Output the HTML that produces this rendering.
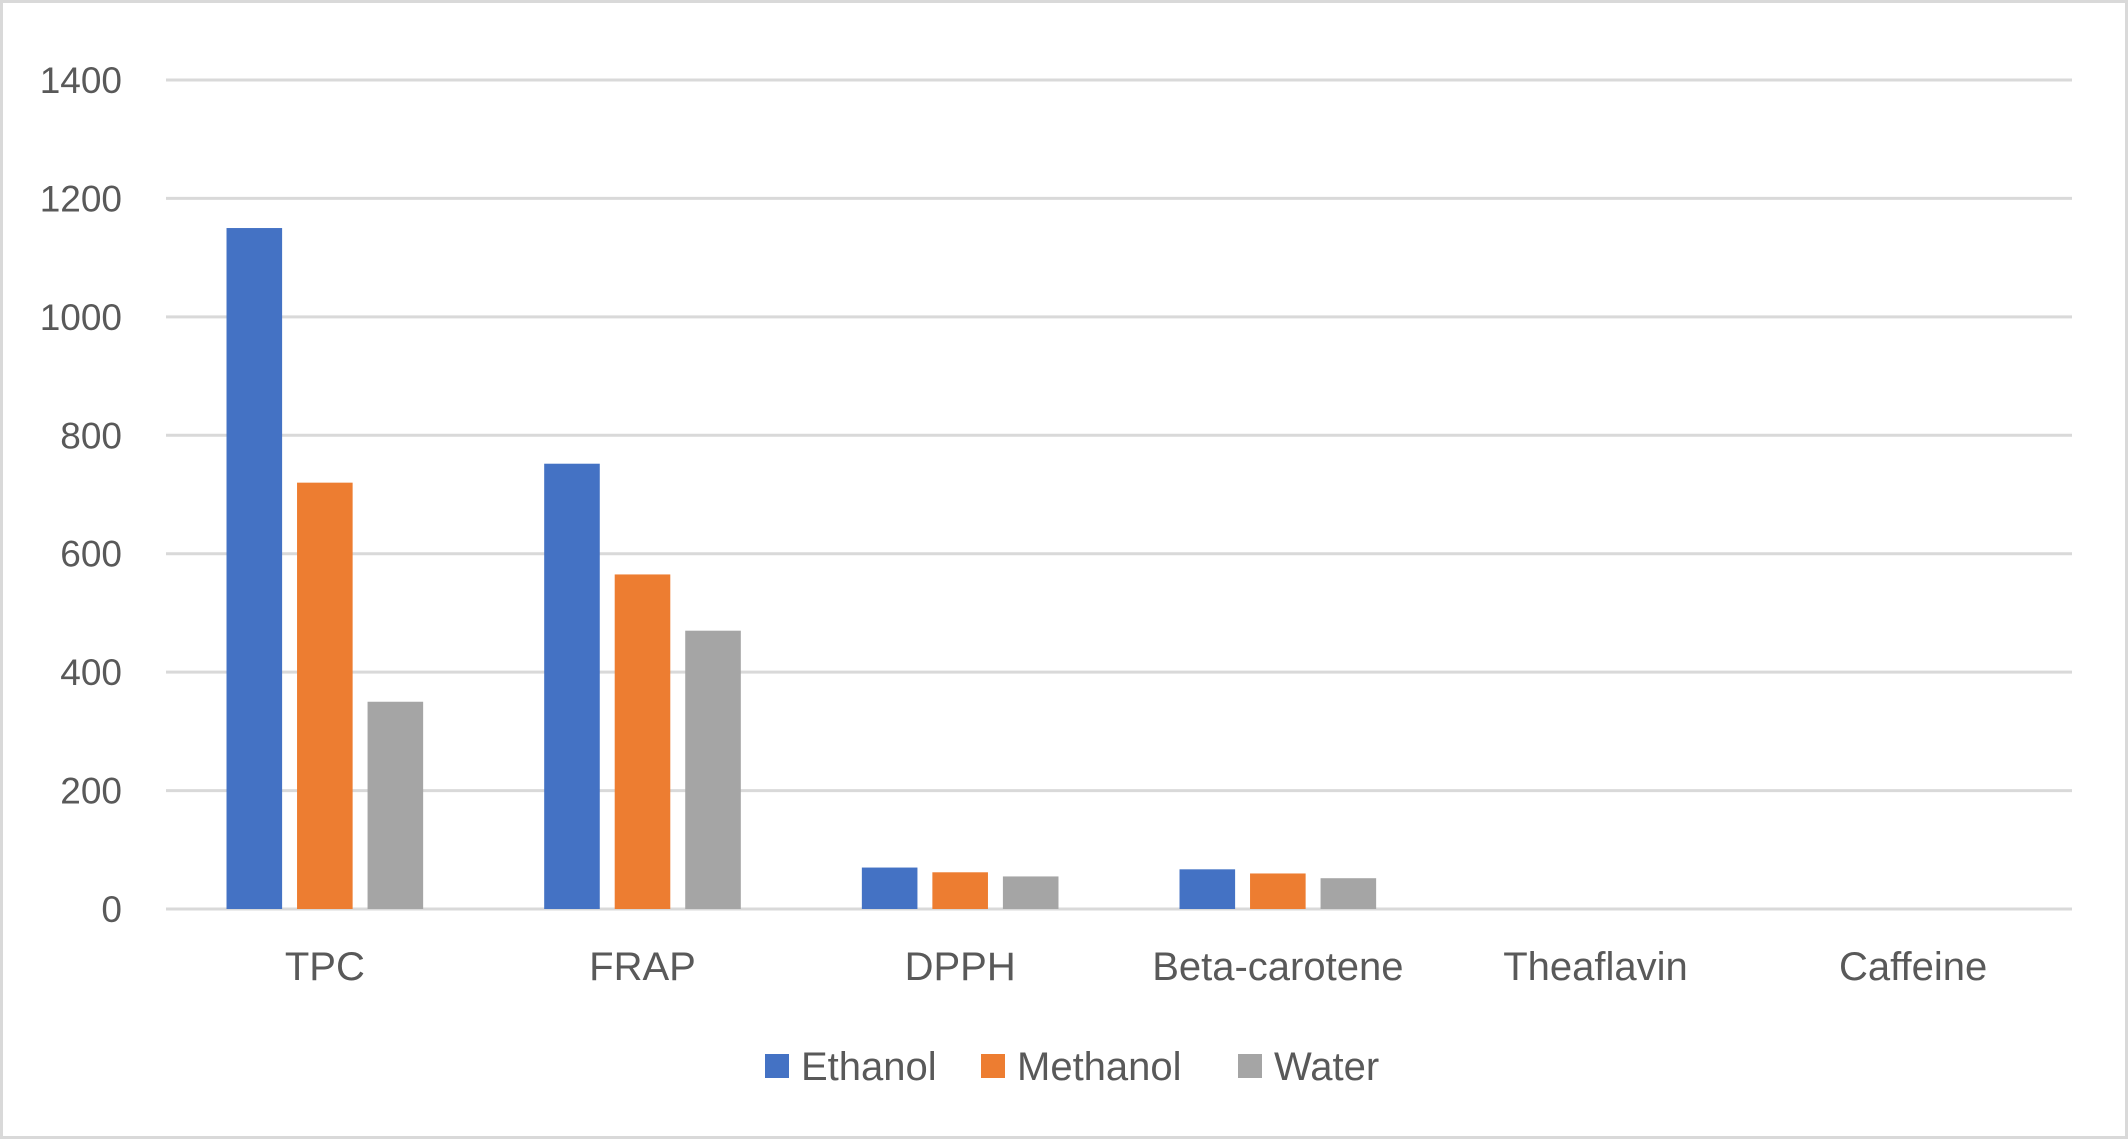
<!DOCTYPE html>
<html><head><meta charset="utf-8"><style>
html,body{margin:0;padding:0;background:#fff}
svg{display:block;font-family:"Liberation Sans",sans-serif}
</style></head><body>
<svg id="chart" width="2128" height="1139" viewBox="0 0 2128 1139">
<rect x="1.5" y="1.5" width="2125" height="1136" fill="#fff" stroke="#d9d9d9" stroke-width="3"/>
<g id="grid"></g><g id="bars"></g><g id="ylabels"></g><g id="xlabels"></g><g id="legend"></g>
</svg>
<script>
const categories = ["TPC","FRAP","DPPH","Beta-carotene","Theaflavin","Caffeine"];
const seriesNames = ["Ethanol","Methanol","Water"];
const ethanol = [1150, 752, 70, 67, 0, 0];
const methanol = [720, 565, 62, 60, 0, 0];
const water = [350, 470, 55, 52, 0, 0];
const yTicks = [0,200,400,600,800,1000,1200,1400];
const colors = ["#4472c4","#ed7d31","#a5a5a5"];
const NS="http://www.w3.org/2000/svg";
const L=166,R=2072,Y0=909,Y1=80,YMAX=1400;
const y=v=>Y0-(v/YMAX)*(Y0-Y1);
const cw=(R-L)/categories.length;
const x=i=>L+cw*i;
function mk(t,a,p){const e=document.createElementNS(NS,t);for(const k in a)e.setAttribute(k,a[k]);document.getElementById(p).appendChild(e);return e;}
yTicks.forEach(t=>{
  const g=mk('line',{x1:L,x2:R,y1:y(t),y2:y(t),stroke:'#d9d9d9','stroke-width':3},'grid');
  
  
  const tx=mk('text',{x:122,y:y(t)+13,'text-anchor':'end','font-size':37,fill:'#595959'},'ylabels');
  tx.textContent=t;
  
  
});
const series=[ethanol,methanol,water];
const bw=cw*0.175, gap=cw*0.047;
const groupW=bw*3+gap*2;
categories.forEach((c,i)=>{
  const start=x(i)+(cw-groupW)/2;
  series.forEach((s,j)=>{
    const v=s[i]; if(v<=0) return;
    const b=mk('rect',{x:start+j*(bw+gap),y:y(v),width:bw,height:Y0-y(v),fill:colors[j]},'bars');
    
    
  });
  const t=mk('text',{x:x(i)+cw/2,y:980,'text-anchor':'middle','font-size':40,fill:'#595959'},'xlabels');
  t.textContent=c;
  
  
});
const legX=[765,981,1238];
seriesNames.forEach((n,j)=>{
  const r=mk('rect',{x:legX[j],y:1054,width:24,height:24,fill:colors[j]},'legend');
  
  
  const t=mk('text',{x:legX[j]+36,y:1080,'font-size':40,fill:'#595959'},'legend');
  t.textContent=n;
  
  
});
</script>
</body></html>
